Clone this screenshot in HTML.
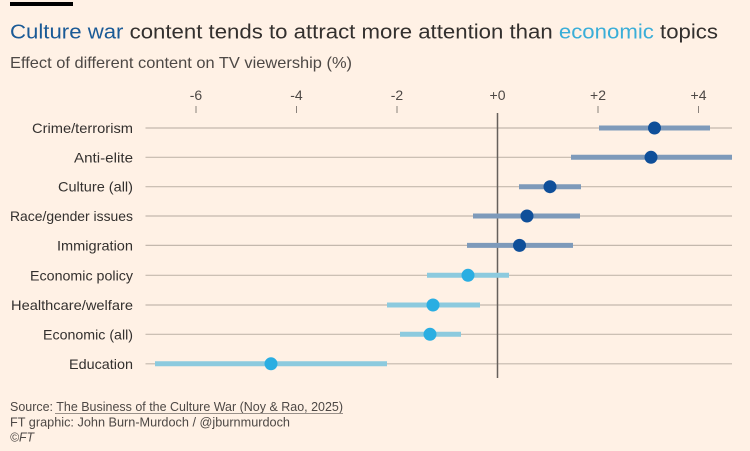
<!DOCTYPE html>
<html>
<head>
<meta charset="utf-8">
<style>
  html,body{margin:0;padding:0;background:#fff1e5;}
  svg{display:block;font-family:"Liberation Sans","DejaVu Sans",sans-serif;}
</style>
</head>
<body>
<svg width="750" height="451" viewBox="0 0 750 451" xmlns="http://www.w3.org/2000/svg">
  <rect x="0" y="0" width="750" height="451" fill="#fff1e5"/>
  <rect x="10" y="2" width="63" height="4" fill="#000"/>

  <text x="10" y="38.5" font-size="20.5" fill="#33302e" textLength="708" lengthAdjust="spacingAndGlyphs"><tspan fill="#1a5a96">Culture war</tspan> content tends to attract more attention than <tspan fill="#3aaed8">economic</tspan> topics</text>
  <text x="10" y="68" font-size="16" fill="#4d4845" textLength="342" lengthAdjust="spacingAndGlyphs">Effect of different content on TV viewership (%)</text>

  <!-- tick labels -->
  <g font-size="14" fill="#4d4845" text-anchor="middle">
    <text x="196" y="100">-6</text>
    <text x="296.5" y="100">-4</text>
    <text x="397" y="100">-2</text>
    <text x="497.5" y="100">+0</text>
    <text x="598" y="100">+2</text>
    <text x="698.5" y="100">+4</text>
  </g>
  <g stroke="#8a827c" stroke-width="1">
    <line x1="196" y1="106" x2="196" y2="113"/>
    <line x1="296.5" y1="106" x2="296.5" y2="113"/>
    <line x1="397" y1="106" x2="397" y2="113"/>
    <line x1="598" y1="106" x2="598" y2="113"/>
    <line x1="698.5" y1="106" x2="698.5" y2="113"/>
  </g>

  <!-- gridlines -->
  <g stroke="#c4b8ad" stroke-width="1.2">
    <line x1="145.5" y1="128" x2="732" y2="128"/>
    <line x1="145.5" y1="157.3" x2="732" y2="157.3"/>
    <line x1="145.5" y1="186.7" x2="732" y2="186.7"/>
    <line x1="145.5" y1="216" x2="732" y2="216"/>
    <line x1="145.5" y1="245.4" x2="732" y2="245.4"/>
    <line x1="145.5" y1="275.3" x2="732" y2="275.3"/>
    <line x1="145.5" y1="305" x2="732" y2="305"/>
    <line x1="145.5" y1="334.3" x2="732" y2="334.3"/>
    <line x1="145.5" y1="363.8" x2="732" y2="363.8"/>
  </g>

  <!-- labels -->
  <g font-size="14" fill="#33302e" text-anchor="end">
    <text x="133" y="133" textLength="101" lengthAdjust="spacingAndGlyphs">Crime/terrorism</text>
    <text x="133" y="162.3" textLength="59" lengthAdjust="spacingAndGlyphs">Anti-elite</text>
    <text x="133" y="191.7" textLength="75" lengthAdjust="spacingAndGlyphs">Culture (all)</text>
    <text x="133" y="221" textLength="123" lengthAdjust="spacingAndGlyphs">Race/gender issues</text>
    <text x="133" y="250.4" textLength="76" lengthAdjust="spacingAndGlyphs">Immigration</text>
    <text x="133" y="280.3" textLength="103" lengthAdjust="spacingAndGlyphs">Economic policy</text>
    <text x="133" y="310" textLength="122" lengthAdjust="spacingAndGlyphs">Healthcare/welfare</text>
    <text x="133" y="339.3" textLength="90" lengthAdjust="spacingAndGlyphs">Economic (all)</text>
    <text x="133" y="368.8" textLength="64" lengthAdjust="spacingAndGlyphs">Education</text>
  </g>

  <!-- zero line -->
  <line x1="497.5" y1="113" x2="497.5" y2="378" stroke="#66605c" stroke-width="1.5"/>

  <!-- CI bars dark -->
  <g stroke="#7e9aba" stroke-width="5">
    <line x1="599" y1="128" x2="710" y2="128"/>
    <line x1="571" y1="157.3" x2="732" y2="157.3"/>
    <line x1="519" y1="186.7" x2="581" y2="186.7"/>
    <line x1="473" y1="216" x2="580" y2="216"/>
    <line x1="467" y1="245.4" x2="573" y2="245.4"/>
  </g>
  <!-- CI bars light -->
  <g stroke="#8ccade" stroke-width="5">
    <line x1="427" y1="275.3" x2="509" y2="275.3"/>
    <line x1="387" y1="305" x2="480" y2="305"/>
    <line x1="400" y1="334.3" x2="461" y2="334.3"/>
    <line x1="155" y1="363.8" x2="387" y2="363.8"/>
  </g>

  <!-- dots -->
  <g fill="#0f4f99">
    <circle cx="654.5" cy="128" r="6.5"/>
    <circle cx="651" cy="157.3" r="6.5"/>
    <circle cx="550" cy="186.7" r="6.5"/>
    <circle cx="527" cy="216" r="6.5"/>
    <circle cx="519.5" cy="245.4" r="6.5"/>
  </g>
  <g fill="#2aaee2">
    <circle cx="468" cy="275.3" r="6.5"/>
    <circle cx="433" cy="305" r="6.5"/>
    <circle cx="430" cy="334.3" r="6.5"/>
    <circle cx="271" cy="363.8" r="6.5"/>
  </g>

  <!-- footer -->
  <g font-size="13" fill="#4d4845">
    <text x="10" y="411" textLength="333" lengthAdjust="spacingAndGlyphs">Source: The Business of the Culture War (Noy &amp; Rao, 2025)</text>
    <line x1="55" y1="413.5" x2="343" y2="413.5" stroke="#9a918a" stroke-width="1"/>
    <text x="10" y="426.5" textLength="280" lengthAdjust="spacingAndGlyphs">FT graphic: John Burn-Murdoch / @jburnmurdoch</text>
    <text x="10" y="441.5" font-style="italic" textLength="24" lengthAdjust="spacingAndGlyphs">©FT</text>
  </g>
</svg>
</body>
</html>
